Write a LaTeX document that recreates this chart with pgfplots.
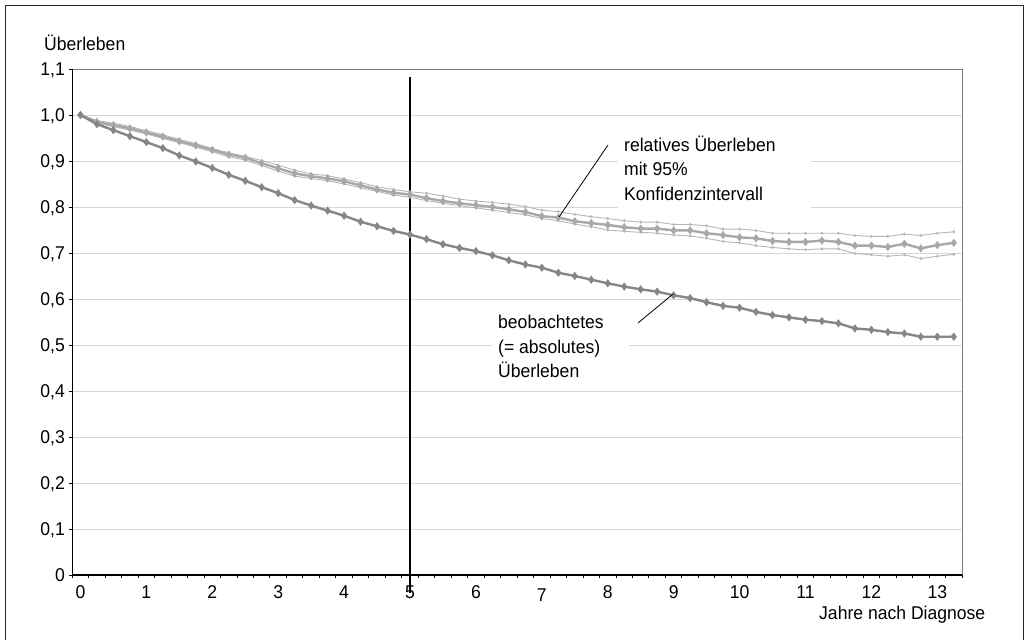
\documentclass[border=0pt]{standalone}
\usepackage{fontspec}
\setmainfont[FakeStretch=0.95]{Liberation Sans}
\usepackage{pgfplots}
\usepackage{pgfplotstable}
\pgfplotsset{compat=1.18}
\definecolor{obsc}{HTML}{868686}
\definecolor{meanc}{HTML}{A8A8A8}
\definecolor{cic}{HTML}{B6B6B6}
\definecolor{gridc}{HTML}{D6D6D6}
\definecolor{borderc}{HTML}{7A7A7A}
\pgfplotstableread{
t obs mean up lo
0 1.000 1.000 1.000 1.000
0.25 0.980 0.985 0.988 0.982
0.5 0.967 0.978 0.982 0.975
0.75 0.954 0.971 0.975 0.967
1.0 0.941 0.962 0.966 0.959
1.25 0.928 0.953 0.957 0.949
1.5 0.912 0.943 0.947 0.940
1.75 0.899 0.934 0.938 0.930
2.0 0.885 0.924 0.927 0.920
2.25 0.870 0.914 0.918 0.909
2.5 0.857 0.907 0.910 0.902
2.75 0.843 0.895 0.901 0.890
3.0 0.830 0.884 0.891 0.878
3.25 0.815 0.873 0.880 0.867
3.5 0.803 0.867 0.872 0.862
3.75 0.792 0.862 0.868 0.857
4.0 0.781 0.856 0.861 0.850
4.25 0.768 0.847 0.853 0.842
4.5 0.758 0.838 0.844 0.834
4.75 0.748 0.831 0.838 0.826
5.0 0.740 0.827 0.833 0.821
5.25 0.730 0.819 0.830 0.814
5.5 0.719 0.813 0.824 0.808
5.75 0.711 0.808 0.817 0.803
6.0 0.704 0.804 0.813 0.798
6.25 0.695 0.800 0.810 0.793
6.5 0.684 0.795 0.806 0.788
6.75 0.675 0.789 0.801 0.783
7.0 0.668 0.780 0.793 0.775
7.25 0.657 0.777 0.790 0.770
7.5 0.650 0.769 0.784 0.763
7.75 0.642 0.765 0.779 0.757
8.0 0.634 0.761 0.775 0.750
8.25 0.627 0.756 0.770 0.747
8.5 0.621 0.753 0.767 0.745
8.75 0.616 0.753 0.767 0.743
9.0 0.608 0.749 0.762 0.739
9.25 0.602 0.749 0.762 0.737
9.5 0.593 0.743 0.759 0.732
9.75 0.585 0.739 0.752 0.725
10.0 0.581 0.734 0.752 0.722
10.25 0.572 0.732 0.749 0.716
10.5 0.565 0.726 0.743 0.712
10.75 0.560 0.724 0.743 0.709
11.0 0.555 0.724 0.743 0.707
11.25 0.552 0.727 0.743 0.709
11.5 0.547 0.724 0.743 0.709
11.75 0.536 0.716 0.738 0.699
12.0 0.533 0.716 0.736 0.696
12.25 0.528 0.713 0.736 0.693
12.5 0.525 0.720 0.741 0.696
12.75 0.518 0.710 0.738 0.688
13.0 0.518 0.717 0.743 0.693
13.25 0.518 0.722 0.746 0.697
}\datatable
\begin{document}
\begin{tikzpicture}[x=1bp,y=1bp,font=\fontsize{18.5bp}{22bp}\selectfont]
\path[use as bounding box] (0,0) rectangle (1026,640);
% outer frame
\draw[line width=1.4bp, black!85] (5.5,0) -- (5.5,634.5) -- (1023.5,634.5) -- (1023.5,0);
\begin{axis}[
  at={(72.2bp,65bp)}, anchor=south west,
  scale only axis, width=889.8bp, height=506bp,
  xmin=-0.125, xmax=13.375, ymin=0, ymax=1.1,
  clip=false,
  axis line style={draw=none},
  tick align=outside,
  major tick length=3bp, minor tick length=3bp,
  xtick={0,1,...,13},
  xticklabels={0,1,2,3,4,5,6,{\raisebox{-2.3bp}{7}},8,9,10,11,12,13},
  minor xtick={-0.125,0.125,...,13.375},
  major x tick style={draw=none},
  minor x tick style={black, line width=0.9bp},
  xticklabel style={anchor=base, inner sep=0pt, yshift=-21bp},
  ytick={0,0.1,0.2,0.3,0.4,0.5,0.6,0.7,0.8,0.9,1.0,1.1},
  yticklabels={0,{0,1},{0,2},{0,3},{0,4},{0,5},{0,6},{0,7},{0,8},{0,9},{1,0},{1,1}},
  yticklabel style={anchor=base east, inner sep=0pt, xshift=-4.2bp, yshift=-6.6bp},
  major y tick style={black, line width=0.9bp},
  ymajorgrids, major grid style={gridc, line width=0.9bp},
  xtick pos=bottom, ytick pos=left,
]
\addplot[cic, line width=0.9bp, mark=diamond*, mark size=1.0bp] table[x=t,y=up]{\datatable};
\addplot[cic, line width=0.9bp, mark=diamond*, mark size=1.0bp] table[x=t,y=lo]{\datatable};
\addplot[meanc, line width=2.4bp, mark=diamond*, mark size=2.2bp] table[x=t,y=mean]{\datatable};
\addplot[obsc, line width=2.4bp, mark=diamond*, mark size=2.2bp] table[x=t,y=obs]{\datatable};
% axis frame
\draw[borderc, line width=0.9bp] (rel axis cs:0,1) -- (rel axis cs:1,1) -- (rel axis cs:1,0);
\draw[black, line width=1.1bp] (rel axis cs:0,1) -- (rel axis cs:0,0) -- (rel axis cs:1,0);
% 5-year marker line
\draw[black, line width=1.1bp] (axis cs:5,-0.039) -- (axis cs:5,1.0826);
\end{axis}
% annotation boxes (picture coords: y_pic = 640 - y_img)
\fill[white] (618,640-212) rectangle (811,640-120);
\fill[white] (492,640-386) rectangle (629,640-312);
\draw[black, line width=0.8bp] (608,640-145) -- (559,640-217);
\draw[black, line width=0.8bp] (638,640-323) -- (673,640-294);
\node[anchor=base west, inner sep=0pt] at (624,640-151.7) {relatives Überleben};
\node[anchor=base west, inner sep=0pt] at (624,640-176) {mit 95\%};
\node[anchor=base west, inner sep=0pt] at (624,640-200.3) {Konfidenzintervall};
\node[anchor=base west, inner sep=0pt] at (498,640-329) {beobachtetes};
\node[anchor=base west, inner sep=0pt] at (498,640-354) {(= absolutes)};
\node[anchor=base west, inner sep=0pt] at (498,640-378) {Überleben};
\node[anchor=base west, inner sep=0pt] at (44,640-51) {Überleben};
\node[anchor=base west, inner sep=0pt] at (819,640-620) {Jahre nach Diagnose};
\end{tikzpicture}
\end{document}
